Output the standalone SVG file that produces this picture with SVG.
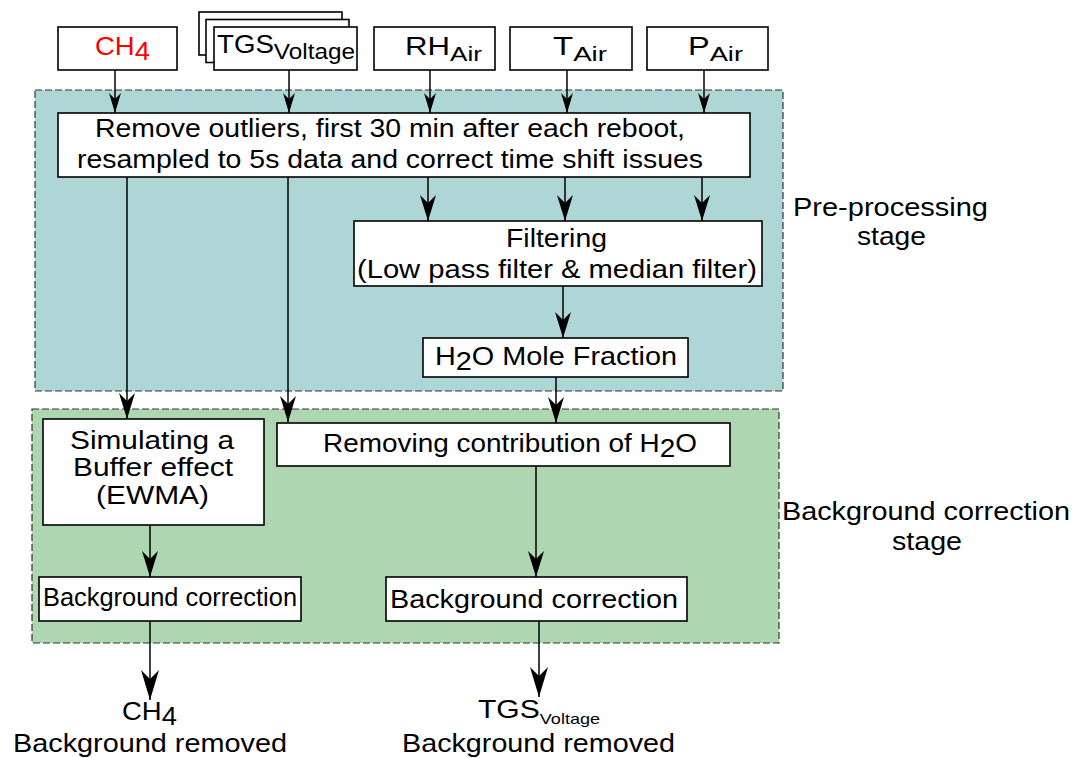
<svg xmlns="http://www.w3.org/2000/svg" width="1076" height="758" viewBox="0 0 1076 758">
<style>
.box{fill:#ffffff;stroke:#000000;stroke-width:1.6}
.stage1{fill:#afd6d6;stroke:#333333;stroke-width:1.2;stroke-dasharray:7,3}
.stage2{fill:#aed6b0;stroke:#333333;stroke-width:1.2;stroke-dasharray:7,3}
.t{font-family:"Liberation Sans",Arial,sans-serif;font-size:25px;fill:#000000}
.c{fill:none;stroke:#000000;stroke-width:1.5}
</style>
<defs>
<marker id="as" viewBox="-20 -6 20 12" markerWidth="20" markerHeight="12" refX="0" refY="0" orient="auto" markerUnits="userSpaceOnUse"><path d="M0,0 L-20,-6 L-14,0 L-20,6 Z" fill="#000"/></marker>
<marker id="am" viewBox="-26 -8 26 16" markerWidth="26" markerHeight="16" refX="0" refY="0" orient="auto" markerUnits="userSpaceOnUse"><path d="M0,0 L-26,-8 L-18,0 L-26,8 Z" fill="#000"/></marker>
<marker id="al" viewBox="-30 -9 30 18" markerWidth="30" markerHeight="18" refX="0" refY="0" orient="auto" markerUnits="userSpaceOnUse"><path d="M0,0 L-30,-9 L-21,0 L-30,9 Z" fill="#000"/></marker>
</defs>

<g id="stage-preprocessing">
<rect class="stage1" x="35" y="90" width="748" height="301"/>
<text class="t" x="793" y="216" font-size="24" textLength="195" lengthAdjust="spacingAndGlyphs">Pre-processing</text>
<text class="t" x="857" y="245" font-size="24" textLength="69" lengthAdjust="spacingAndGlyphs">stage</text>
</g>
<g id="stage-background">
<rect class="stage2" x="32" y="409" width="747" height="234"/>
<text class="t" x="782" y="520" font-size="24" textLength="288" lengthAdjust="spacingAndGlyphs">Background correction</text>
<text class="t" x="892" y="550" font-size="24" textLength="70" lengthAdjust="spacingAndGlyphs">stage</text>
</g>

<g id="connectors">
<line class="c" x1="115" y1="70" x2="115" y2="113" marker-end="url(#as)"/>
<line class="c" x1="289" y1="70" x2="289" y2="113" marker-end="url(#as)"/>
<line class="c" x1="430" y1="70" x2="430" y2="113" marker-end="url(#as)"/>
<line class="c" x1="567" y1="70" x2="567" y2="113" marker-end="url(#as)"/>
<line class="c" x1="704" y1="70" x2="704" y2="113" marker-end="url(#as)"/>
<line class="c" x1="428" y1="177" x2="428" y2="221" marker-end="url(#am)"/>
<line class="c" x1="565" y1="177" x2="565" y2="221" marker-end="url(#am)"/>
<line class="c" x1="702" y1="177" x2="702" y2="221" marker-end="url(#am)"/>
<line class="c" x1="563" y1="286" x2="563" y2="338" marker-end="url(#am)"/>
<line class="c" x1="556" y1="377" x2="556" y2="423" marker-end="url(#am)"/>
<line class="c" x1="127" y1="177" x2="127" y2="419" marker-end="url(#am)"/>
<line class="c" x1="288" y1="177" x2="288" y2="422" marker-end="url(#am)"/>
<line class="c" x1="150" y1="525" x2="150" y2="577" marker-end="url(#am)"/>
<line class="c" x1="536" y1="466" x2="536" y2="577" marker-end="url(#am)"/>
<line class="c" x1="150" y1="621" x2="150" y2="700" marker-end="url(#al)"/>
<line class="c" x1="539" y1="621" x2="539" y2="697" marker-end="url(#al)"/>
</g>

<g id="node-ch4">
<rect class="box" x="58" y="27" width="119" height="43"/>
<text class="t" x="95" y="55" font-size="26" style="fill:#ff0000" textLength="55" lengthAdjust="spacingAndGlyphs">CH<tspan dy="5">4</tspan></text>
</g>
<g id="node-tgs">
<rect class="box" x="199" y="12" width="143" height="43"/>
<rect class="box" x="206" y="19.5" width="143" height="43"/>
<rect class="box" x="214" y="27" width="143" height="43"/>
<text class="t" x="217" y="53" font-size="27" textLength="138" lengthAdjust="spacingAndGlyphs">TGS<tspan font-size="22" dy="6">Voltage</tspan></text>
</g>
<g id="node-rh">
<rect class="box" x="374" y="27" width="121" height="43"/>
<text class="t" x="405" y="55" font-size="26" textLength="77" lengthAdjust="spacingAndGlyphs">RH<tspan font-size="21" dy="6">Air</tspan></text>
</g>
<g id="node-t">
<rect class="box" x="510" y="27" width="122" height="43"/>
<text class="t" x="553" y="55" font-size="26" textLength="54" lengthAdjust="spacingAndGlyphs">T<tspan font-size="21" dy="6">Air</tspan></text>
</g>
<g id="node-p">
<rect class="box" x="647" y="27" width="121" height="43"/>
<text class="t" x="688" y="55" font-size="26" textLength="55" lengthAdjust="spacingAndGlyphs">P<tspan font-size="21" dy="6">Air</tspan></text>
</g>

<g id="node-remove">
<rect class="box" x="58" y="113" width="692" height="64"/>
<text class="t" x="95" y="137" textLength="590" lengthAdjust="spacingAndGlyphs">Remove outliers, first 30 min after each reboot,</text>
<text class="t" x="77" y="168" textLength="626" lengthAdjust="spacingAndGlyphs">resampled to 5s data and correct time shift issues</text>
</g>
<g id="node-filtering">
<rect class="box" x="354" y="221" width="408" height="65"/>
<text class="t" x="506" y="247" textLength="101" lengthAdjust="spacingAndGlyphs">Filtering</text>
<text class="t" x="357" y="278" textLength="400" lengthAdjust="spacingAndGlyphs">(Low pass filter &amp; median filter)</text>
</g>
<g id="node-h2o">
<rect class="box" x="423" y="338" width="265" height="39"/>
<text class="t" x="435" y="365" textLength="242" lengthAdjust="spacingAndGlyphs">H<tspan dy="5">2</tspan><tspan dy="-5">O Mole Fraction</tspan></text>
</g>
<g id="node-simulating">
<rect class="box" x="43" y="419" width="221" height="106"/>
<text class="t" x="70" y="449" font-size="24" textLength="164" lengthAdjust="spacingAndGlyphs">Simulating a</text>
<text class="t" x="73" y="476" font-size="24" textLength="160" lengthAdjust="spacingAndGlyphs">Buffer effect</text>
<text class="t" x="96" y="504" font-size="23" textLength="113" lengthAdjust="spacingAndGlyphs">(EWMA)</text>
</g>
<g id="node-removing">
<rect class="box" x="277" y="423" width="453" height="43"/>
<text class="t" x="323" y="452" textLength="374" lengthAdjust="spacingAndGlyphs">Removing contribution of H<tspan dy="5">2</tspan><tspan dy="-5">O</tspan></text>
</g>
<g id="node-bg-left">
<rect class="box" x="39" y="577" width="262" height="44"/>
<text class="t" x="43" y="606" font-size="28" textLength="254" lengthAdjust="spacingAndGlyphs">Background correction</text>
</g>
<g id="node-bg-right">
<rect class="box" x="386" y="577" width="301" height="44"/>
<text class="t" x="390" y="608" font-size="27" textLength="288" lengthAdjust="spacingAndGlyphs">Background correction</text>
</g>
<g id="out-ch4">
<text class="t" x="122" y="720" font-size="26" textLength="55" lengthAdjust="spacingAndGlyphs">CH<tspan dy="5">4</tspan></text>
<text class="t" x="13" y="752" font-size="27" textLength="274" lengthAdjust="spacingAndGlyphs">Background removed</text>
</g>
<g id="out-tgs">
<text class="t" x="478" y="718" font-size="26" textLength="122" lengthAdjust="spacingAndGlyphs">TGS<tspan font-size="15" dy="6">Voltage</tspan></text>
<text class="t" x="402" y="752" font-size="27" textLength="273" lengthAdjust="spacingAndGlyphs">Background removed</text>
</g>
</svg>
